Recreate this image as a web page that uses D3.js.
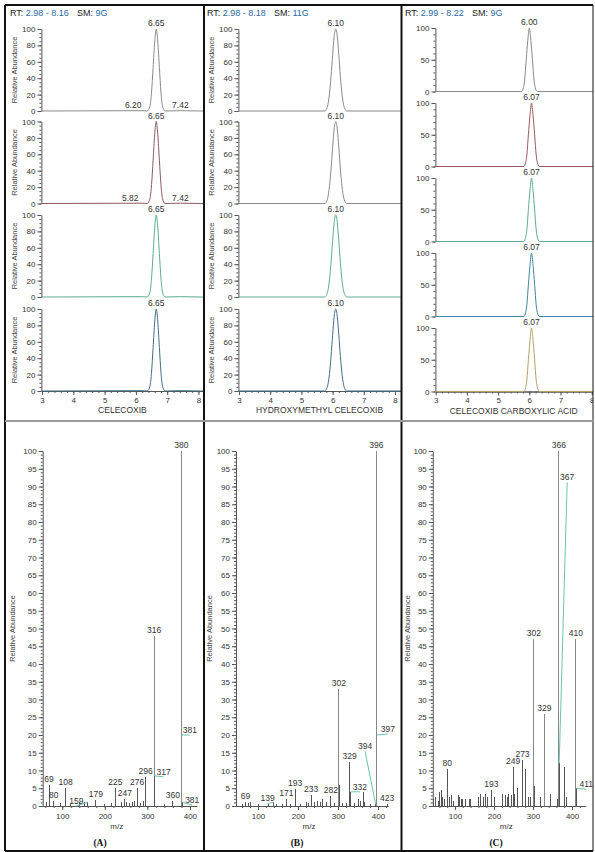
<!DOCTYPE html>
<html>
<head>
<meta charset="utf-8">
<script src="https://cdn.jsdelivr.net/npm/d3@7"></script>
<style>
  body { margin: 0; background: #fff; }
  svg { display: block; font-family: "Liberation Sans", Arial, sans-serif; }
  .axis path, .axis line { stroke: #555; }
  .axis text { fill: #333; font-size: 8px; font-family: "Liberation Sans", Arial, sans-serif; }
</style>
</head>
<body>
<div id="chart"></div>
<script>
// ---------- data ----------
var rtRanges = ["2.98 - 8.16", "2.98 - 8.18", "2.99 - 8.22"];
var smoothing = ["9G", "11G", "9G"];
var compounds = ["CELECOXIB", "HYDROXYMETHYL CELECOXIB", "CELECOXIB CARBOXYLIC ACID"];
var panelTags = ["(A)", "(B)", "(C)"];
var rtDomains = [[2.98, 8.16], [2.98, 8.18], [2.99, 8.22]];
var rtTicks = [3, 4, 5, 6, 7, 8];

// chromatogram traces: [retention time, relative abundance]
var traceA = [[2.98, 0], [6.20, 0.4], [6.36, 0], [6.45, 6], [6.50, 23], [6.55, 53], [6.60, 84], [6.65, 100],
  [6.70, 84], [6.75, 53], [6.80, 23], [6.85, 6], [6.93, 0], [7.42, 0.4], [8.16, 0]];
var traceB = [[2.98, 0], [5.75, 0], [5.80, 2], [5.85, 8], [5.90, 21], [5.95, 42], [6.00, 68], [6.05, 91], [6.10, 100],
  [6.15, 91], [6.20, 68], [6.25, 42], [6.30, 21], [6.35, 8], [6.40, 2], [6.45, 0], [8.18, 0]];
var traceC0 = [[2.99, 0], [5.75, 0], [5.80, 4], [5.85, 18], [5.90, 50], [5.95, 80], [6.00, 100],
  [6.05, 80], [6.10, 50], [6.15, 18], [6.20, 4], [6.26, 0], [8.22, 0]];
var traceC1 = [[2.99, 0], [5.82, 0], [5.87, 4], [5.92, 18], [5.97, 50], [6.02, 80], [6.07, 100],
  [6.12, 80], [6.17, 50], [6.22, 18], [6.27, 4], [6.33, 0], [8.22, 0]];

var apexA = ["6.65", "6.65", "6.65", "6.65"];
var apexB = ["6.10", "6.10", "6.10", "6.10"];
var apexC = ["6.00", "6.07", "6.07", "6.07", "6.07"];
var minorRtA = [[[6.20, 0.4, "6.20"], [7.42, 0.4, "7.42"]], [[5.82, 0, "5.82"], [7.42, 0, "7.42"]], [], []];

// mass spectra: [m/z, relative abundance]
var sticksA = [[62, 1], [69, 6], [80, 1.5], [95, 0.8], [108, 5], [120, 0.6], [140, 1], [152, 1], [159, 1],
  [179, 1.8], [200, 0.5], [215, 0.8], [225, 5], [240, 1], [247, 2], [252, 1], [258, 0.8], [265, 1],
  [270, 1.5], [276, 5], [285, 0.8], [290, 1.5], [296, 8.3], [316, 48], [317, 8.5], [340, 0.5],
  [360, 1.5], [380, 100], [381, 20], [382, 1]];
var labelsA = [[69, 6, "69"], [80, 1.5, "80"], [108, 5, "108"], [159, 1, "159"], [179, 1.8, "179"],
  [225, 5, "225"], [247, 2, "247"], [276, 5, "276"], [296, 8.3, "296"], [316, 48, "316"],
  [317, 8.5, "317"], [360, 1.5, "360"], [380, 100, "380"], [381, 20, "381"], [382, 1, "381"]];

var sticksB = [[62, 0.5], [69, 1], [75, 0.8], [82, 1], [100, 0.5], [125, 0.5], [139, 1], [145, 0.5],
  [160, 0.5], [171, 2], [180, 0.5], [193, 4.8], [205, 0.5], [220, 1], [225, 0.8], [233, 3], [240, 1],
  [248, 1.5], [255, 1], [262, 2], [270, 1], [282, 2.8], [290, 0.8], [302, 33], [303, 6], [310, 0.8],
  [320, 0.8], [329, 12.5], [330, 4], [331, 3], [332, 4], [340, 0.8], [350, 2], [355, 1.5], [364, 4],
  [366, 1], [380, 0.5], [394, 0.5], [396, 100], [397, 20], [423, 0.5]];
var labelsB = [[69, 1, "69"], [139, 1, "139"], [171, 2, "171"], [193, 4.8, "193"], [233, 3, "233"],
  [282, 2.8, "282"], [302, 33, "302"], [329, 12.5, "329"], [332, 4, "332"], [394, 0.5, "394"],
  [396, 100, "396"], [397, 20, "397"], [423, 0.5, "423"]];

var sticksC = [[45, 2], [50, 2.5], [57, 1.5], [60, 4], [65, 4.5], [68, 2.5], [72, 2], [80, 10.5], [86, 2.5],
  [90, 3], [96, 1.5], [108, 3], [112, 2.5], [116, 2], [120, 2], [128, 2], [136, 2], [140, 2], [160, 2.5],
  [165, 3.5], [172, 2.5], [178, 3.5], [184, 2.5], [193, 4.5], [200, 2.5], [222, 3.5], [230, 3], [235, 2.5],
  [238, 3.5], [244, 3], [249, 11], [253, 3.5], [259, 5], [273, 13], [281, 10.5], [288, 2.5], [293, 2.5],
  [302, 47], [303, 5.5], [318, 2.5], [329, 26], [345, 3.5], [362, 2], [366, 100], [367, 12], [380, 11],
  [385, 2.5], [410, 47], [411, 5]];
var labelsC = [[80, 10.5, "80"], [193, 4.5, "193"], [249, 11, "249"], [273, 13, "273"], [302, 47, "302"],
  [329, 26, "329"], [366, 100, "366"], [367, 12, "367"], [410, 47, "410"], [411, 5, "411"]];

// ---------- layout ----------
var W = 595, H = 852;
var chromCols = [
  { range: [41.4, 203.5], tops: [29, 121.5, 215, 309], h: 82, yTicks: [0, 20, 40, 60, 80, 100], yMinor: 5, ylabX: 17, hdrX: 10 },
  { range: [238.4, 400.6], tops: [29, 121.5, 215, 309], h: 82, yTicks: [0, 20, 40, 60, 80, 100], yMinor: 5, ylabX: 214, hdrX: 207 },
  { range: [435.4, 598.6], tops: [28, 103, 178, 253, 328], h: 63.5, yTicks: [0, 50, 100], yMinor: 10, ylabX: null, hdrX: 405 }
];
var traceColors = [
  ["#8a8a8a", "#8d5b5e", "#5cae8e", "#3f6f88"],
  ["#8a8a8a", "#8a8a8a", "#5cae8e", "#3f6f88"],
  ["#8a8a8a", "#9a5a5c", "#5cae8e", "#3f86a0", "#b5a262"]
];
// label offsets (dx, dy from the peak top) for labels placed aside with a leader line
var minorRtShift = { "6.20": -9 };
var leaderA = { "317@317": [9, -1], "381@381": [8, -2], "381@382": [10, 0.5], "159@159": [-11, 1.5] };
var leaderB = { "139@139": [-6, -1], "332@332": [9, -2], "394@394": [-10.5, -55], "397@397": [11, -3] };
var leaderC = { "367@367": [8, -283], "411@411": [10, -1] };
var specCols = [
  { dom: [54, 416], range: [42.7, 196.7], ylabX: 15, tagX: 100 },
  { dom: [45, 425], range: [236, 388], ylabX: 212, tagX: 297 },
  { dom: [43, 435], range: [432.8, 585.7], ylabX: 410, tagX: 496 }
];
var specY = [806, 451];

var svg = d3.select("#chart").append("svg").attr("width", W).attr("height", H);
svg.append("rect").attr("width", W).attr("height", H).attr("fill", "#fff");

var clip = svg.append("defs").append("clipPath").attr("id", "pageclip");
clip.append("rect").attr("x", 0).attr("y", 0).attr("width", 593).attr("height", H);
var root = svg.append("g").attr("clip-path", "url(#pageclip)");

// ---------- chromatograms ----------
var chromTraces = [
  [traceA, traceA, traceA, traceA],
  [traceB, traceB, traceB, traceB],
  [traceC0, traceC1, traceC1, traceC1, traceC1]
];
var chromApex = [apexA, apexB, apexC];
var apexRt = [[6.65, 6.65, 6.65, 6.65], [6.10, 6.10, 6.10, 6.10], [6.00, 6.07, 6.07, 6.07, 6.07]];

chromCols.forEach(function(col, c) {
  var x = d3.scaleLinear().domain(rtDomains[c]).range(col.range);

  // header
  var hdr = root.append("text").attr("x", col.hdrX).attr("y", 16).attr("font-size", 9);
  hdr.append("tspan").attr("fill", "#222").text("RT: ");
  hdr.append("tspan").attr("fill", "#1f6aa5").text(rtRanges[c]);
  hdr.append("tspan").attr("fill", "#222").attr("dx", 8).text("SM: ");
  hdr.append("tspan").attr("fill", "#1f6aa5").text(smoothing[c]);

  var n = chromTraces[c].length;
  col.tops.forEach(function(top, i) {
    var y = d3.scaleLinear().domain([0, 100]).range([top + col.h, top]);
    var g = root.append("g");

    // minor y ticks
    g.append("g").attr("class", "axis")
      .attr("transform", "translate(" + col.range[0] + ",0)")
      .call(d3.axisLeft(y).tickValues(d3.range(0, 101, col.yMinor)).tickSize(2).tickFormat(""))
      .call(function(a) { a.select(".domain").remove(); });
    g.append("g").attr("class", "axis")
      .attr("transform", "translate(" + col.range[0] + ",0)")
      .call(d3.axisLeft(y).tickValues(col.yTicks).tickSize(4).tickSizeOuter(0).tickPadding(2));

    if (col.ylabX !== null) {
      g.append("text")
        .attr("transform", "translate(" + col.ylabX + "," + (top + col.h / 2) + ") rotate(-90)")
        .attr("text-anchor", "middle").attr("font-size", 7.5).attr("fill", "#444")
        .text("Relative Abundance");
    }

    // x axis on the bottom trace only
    if (i === n - 1) {
      g.append("g").attr("class", "axis")
        .attr("transform", "translate(0," + (top + col.h) + ")")
        .call(d3.axisBottom(x).tickValues(d3.range(3, 8.01, 0.2)).tickSize(2).tickFormat("").tickSizeOuter(0));
      g.append("g").attr("class", "axis")
        .attr("transform", "translate(0," + (top + col.h) + ")")
        .call(d3.axisBottom(x).tickValues(rtTicks).tickSize(4).tickSizeOuter(0).tickPadding(2).tickFormat(d3.format("d")))
        .call(function(a) { a.selectAll("text").attr("font-size", 8); });
      g.append("text").attr("x", (col.range[0] + Math.min(col.range[1], 592)) / 2)
        .attr("y", top + col.h + 22).attr("text-anchor", "middle")
        .attr("font-size", 8.5).attr("fill", "#333").text(compounds[c]);
    }

    var line = d3.line().x(function(d) { return x(d[0]); }).y(function(d) { return y(d[1]); })
      .curve(d3.curveMonotoneX);
    g.append("path").datum(chromTraces[c][i]).attr("d", line)
      .attr("fill", "none").attr("stroke", traceColors[c][i]).attr("stroke-width", 1);

    g.append("text").attr("x", x(apexRt[c][i])).attr("y", top - 3)
      .attr("text-anchor", "middle").attr("font-size", 8.5).attr("fill", "#333")
      .text(chromApex[c][i]);

    if (c === 0) {
      minorRtA[i].forEach(function(m) {
        g.append("text").attr("x", x(m[0]) + (minorRtShift[m[2]] || 0)).attr("y", y(m[1]) - 3)
          .attr("text-anchor", "middle").attr("font-size", 8.5).attr("fill", "#333").text(m[2]);
      });
    }
  });
});

// ---------- mass spectra ----------
var specSticks = [sticksA, sticksB, sticksC];
var specLabels = [labelsA, labelsB, labelsC];
var specLeaders = [leaderA, leaderB, leaderC];

specCols.forEach(function(col, c) {
  var x = d3.scaleLinear().domain(col.dom).range(col.range);
  var y = d3.scaleLinear().domain([0, 100]).range(specY);
  var g = root.append("g");

  g.append("g").attr("class", "axis").attr("transform", "translate(" + col.range[0] + ",0)")
    .call(d3.axisLeft(y).tickValues(d3.range(0, 101, 1)).tickSize(2).tickFormat(""))
    .call(function(a) { a.select(".domain").remove(); });
  g.append("g").attr("class", "axis").attr("transform", "translate(" + col.range[0] + ",0)")
    .call(d3.axisLeft(y).tickValues(d3.range(0, 101, 5)).tickSize(4).tickSizeOuter(0).tickPadding(2));

  g.append("g").attr("class", "axis").attr("transform", "translate(0," + specY[0] + ")")
    .call(d3.axisBottom(x).tickValues(d3.range(60, col.dom[1], 20)).tickSize(2).tickFormat("").tickSizeOuter(0));
  g.append("g").attr("class", "axis").attr("transform", "translate(0," + specY[0] + ")")
    .call(d3.axisBottom(x).tickValues([100, 200, 300, 400]).tickSize(4).tickSizeOuter(0).tickPadding(3));

  g.append("text")
    .attr("transform", "translate(" + col.ylabX + "," + ((specY[0] + specY[1]) / 2) + ") rotate(-90)")
    .attr("text-anchor", "middle").attr("font-size", 7.5).attr("fill", "#444")
    .text("Relative Abundance");
  g.append("text").attr("x", (col.range[0] + col.range[1]) / 2 - 3).attr("y", 829)
    .attr("text-anchor", "middle").attr("font-size", 8).attr("fill", "#333").text("m/z");
  g.append("text").attr("x", col.tagX).attr("y", 846)
    .attr("text-anchor", "middle").attr("font-size", 9.5).attr("font-weight", "bold")
    .attr("font-family", "Liberation Serif, serif").attr("fill", "#111").text(panelTags[c]);

  g.selectAll("line.stick").data(specSticks[c]).enter().append("line")
    .attr("class", "stick")
    .attr("x1", function(d) { return x(d[0]); }).attr("x2", function(d) { return x(d[0]); })
    .attr("y1", y(0)).attr("y2", function(d) { return y(d[1]); })
    .attr("stroke", function(d) { return d[1] < 15 ? "#555" : "#888"; })
    .attr("stroke-width", 1).attr("shape-rendering", "crispEdges");

  specLabels[c].forEach(function(d) {
    var px = x(d[0]), py = y(d[1]);
    var off = specLeaders[c][d[2] + "@" + d[0]];
    if (off) {
      var lx = px + off[0], ly = py + off[1];
      g.append("line").attr("x1", px).attr("y1", py).attr("x2", lx).attr("y2", ly + 2)
        .attr("stroke", "#6cc2b0").attr("stroke-width", 1);
      g.append("text").attr("x", lx).attr("y", ly).attr("text-anchor", "middle")
        .attr("font-size", 8.5).attr("fill", "#333").text(d[2]);
    } else {
      g.append("text").attr("x", px).attr("y", py - 3).attr("text-anchor", "middle")
        .attr("font-size", 8.5).attr("fill", "#333").text(d[2]);
    }
  });
});

// ---------- frame ----------
var frame = svg.append("g").attr("stroke", "#111").attr("fill", "none");
frame.append("line").attr("x1", 5).attr("x2", 593).attr("y1", 5).attr("y2", 5).attr("stroke-width", 2);
frame.append("line").attr("x1", 5).attr("x2", 5).attr("y1", 5).attr("y2", 851).attr("stroke-width", 2);
frame.append("line").attr("x1", 204).attr("x2", 204).attr("y1", 5).attr("y2", 851).attr("stroke-width", 2);
frame.append("line").attr("x1", 401.5).attr("x2", 401.5).attr("y1", 5).attr("y2", 851).attr("stroke-width", 2);
frame.append("line").attr("x1", 5).attr("x2", 593).attr("y1", 851).attr("y2", 851).attr("stroke-width", 2);
frame.append("line").attr("x1", 593).attr("x2", 593).attr("y1", 5).attr("y2", 851).attr("stroke-width", 1);
svg.append("line").attr("x1", 5).attr("x2", 593).attr("y1", 421).attr("y2", 421)
  .attr("stroke", "#9a9a9a").attr("stroke-width", 2);
</script>
</body>
</html>
